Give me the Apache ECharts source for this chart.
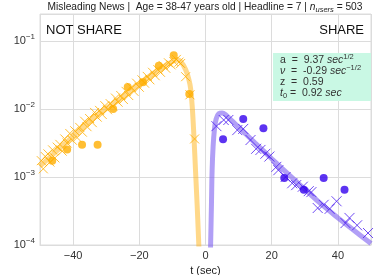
<!DOCTYPE html>
<html><head><meta charset="utf-8">
<script src="https://cdn.jsdelivr.net/npm/echarts@6/dist/echarts.min.js"></script>
<style>html,body{margin:0;padding:0;background:#fff}#c{width:374px;height:275px}</style>
</head><body><div id="c"></div>
<script>
// ---------- data ----------
const xTicks = [-40, -20, 0, 20, 40];
const yTicks = [1e-4, 1e-3, 1e-2, 1e-1];

// NOT SHARE (orange) fitted curve
const notShareLineT = [-50, -45, -40, -35, -30, -25, -20, -15, -12, -10, -8.5, -7.5, -6, -5, -4.5, -4, -3.5, -3, -2.5, -2];
const notShareLineP = [1.45e-3, 2.40e-3, 3.98e-3, 6.76e-3, 1.02e-2, 1.51e-2, 2.34e-2, 3.55e-2, 4.37e-2, 5.01e-2, 5.25e-2, 5.01e-2, 3.80e-2, 2.69e-2, 2.0e-2, 1.07e-2, 3.98e-3, 1.20e-3, 3.63e-4, 9.5e-5];
// NOT SHARE crosses
const notShareXT = [-49.6, -49.0, -48.4, -47.6, -47.0, -46.2, -45.5, -44.8, -44.0, -43.3, -42.5, -41.8, -41.0, -40.2, -39.5, -38.8, -38.0, -37.2, -36.5, -35.8, -35.0, -34.2, -33.5, -32.7, -32.0, -31.2, -30.4, -29.6, -28.8, -28.0, -27.2, -26.4, -25.6, -24.8, -24.0, -23.2, -22.4, -21.6, -20.8, -20.0, -19.2, -18.4, -17.6, -16.8, -16.0, -15.2, -14.4, -13.6, -12.8, -12.0, -11.2, -10.4, -9.6, -8.8, -8.0, -7.5, -6.0, -4.7, -3.3];
const notShareXP = [1.74e-3, 1.32e-3, 2.00e-3, 2.19e-3, 1.66e-3, 2.51e-3, 1.91e-3, 2.75e-3, 3.02e-3, 2.40e-3, 3.63e-3, 3.16e-3, 4.37e-3, 3.47e-3, 4.79e-3, 3.80e-3, 5.37e-3, 4.57e-3, 6.61e-3, 5.50e-3, 7.24e-3, 6.31e-3, 8.91e-3, 7.59e-3, 9.55e-3, 8.32e-3, 1.12e-2, 9.77e-3, 1.20e-2, 1.10e-2, 1.45e-2, 1.26e-2, 1.58e-2, 1.38e-2, 1.82e-2, 1.58e-2, 2.09e-2, 1.82e-2, 2.40e-2, 2.09e-2, 2.69e-2, 2.40e-2, 3.02e-2, 2.69e-2, 3.47e-2, 3.09e-2, 3.80e-2, 3.47e-2, 4.37e-2, 3.98e-2, 4.79e-2, 4.47e-2, 5.01e-2, 5.37e-2, 4.90e-2, 4.68e-2, 2.99e-2, 1.62e-2, 3.63e-3];
// NOT SHARE circles
const notShareOT = [-46.3, -41.8, -37.3, -32.6, -27.9, -23.5, -18.9, -14.1, -9.6, -4.9];
const notShareOP = [1.74e-3, 2.55e-3, 2.98e-3, 2.98e-3, 1.0e-2, 2.11e-2, 2.47e-2, 4.34e-2, 6.2e-2, 1.66e-2];

// SHARE (purple) fitted curve
const shareLineT = [1.5, 1.8, 2.0, 2.3, 2.7, 3.2, 4.0, 5.0, 6.0, 7.5, 9, 12, 15, 20, 25, 30, 35, 40, 45, 50];
const shareLineP = [8e-5, 3.98e-4, 1.26e-3, 2.82e-3, 5.01e-3, 7.08e-3, 8.51e-3, 8.71e-3, 8.32e-3, 7.08e-3, 6.03e-3, 4.37e-3, 3.16e-3, 1.86e-3, 1.10e-3, 6.61e-4, 3.98e-4, 2.51e-4, 1.62e-4, 1.05e-4];
// SHARE crosses
const shareXT = [3.3, 5.5, 6.9, 9.6, 11.4, 13.6, 15.3, 16.6, 18.1, 19.3, 21.4, 22.0, 24.2, 26.2, 27.4, 29.4, 31.2, 32.0, 33.9, 35.7, 37.5, 39.6, 42.3, 43.5, 45.8, 49.1];
const shareXP = [5.6e-3, 6.9e-3, 6.9e-3, 4.9e-3, 5.1e-3, 3.5e-3, 2.6e-3, 2.5e-3, 2.2e-3, 2.0e-3, 1.41e-3, 1.26e-3, 1.0e-3, 8.1e-4, 7.6e-4, 7.2e-4, 6.2e-4, 6.0e-4, 3.5e-4, 3.9e-4, 3.4e-4, 4.4e-4, 2.1e-4, 2.5e-4, 1.95e-4, 1.5e-4];
// SHARE circles
const shareOT = [5.3, 11.4, 17.5, 23.8, 29.7, 35.7, 42.0];
const shareOP = [3.58e-3, 7.13e-3, 5.2e-3, 9.7e-4, 6.5e-4, 9.7e-4, 6.5e-4];

// ---------- chart ----------
const FONT = '"Liberation Sans", Arial, sans-serif';
const zip = (a, b) => a.map((v, i) => [v, b[i]]);
const ORANGE = '#ffae00';
const PURPLE = '#3300ee';
const XSYM = 'path://M0,0L10,10M10,0L0,10';

const chart = echarts.init(document.getElementById('c'), null, { renderer: 'canvas' });
chart.setOption({
  animation: false,
  textStyle: { fontFamily: FONT },
  grid: { left: 40, right: 3, top: 14, bottom: 30, outerBoundsMode: 'none', containLabel: false,
          show: true, borderColor: '#dcdcdc', borderWidth: 1, backgroundColor: '#fff' },
  xAxis: {
    type: 'value', min: -50, max: 50, splitNumber: 5,
    name: 't (sec)', nameLocation: 'middle', nameGap: 18,
    nameTextStyle: { fontSize: 11, color: '#222', fontFamily: FONT },
    axisLine: { show: true, lineStyle: { color: '#dcdcdc' } },
    axisTick: { show: false },
    axisLabel: {
      fontSize: 11, color: '#333', margin: 5, fontFamily: FONT,
      formatter: v => xTicks.includes(v) ? String(v).replace('-', '\u2212') : ''
    },
    splitLine: { show: true, lineStyle: { color: '#dcdcdc', width: 1 } }
  },
  yAxis: {
    type: 'log', logBase: 10, min: 1e-4, max: 0.25,
    name: 'PDF', nameLocation: 'middle', nameGap: 28, nameRotate: 90,
    nameTextStyle: { fontSize: 11, color: '#222', fontFamily: FONT },
    axisLine: { show: true, lineStyle: { color: '#dcdcdc' } },
    axisTick: { show: false },
    axisLabel: {
      color: '#333', margin: 5, fontFamily: FONT,
      formatter: v => {
        const l = Math.log10(v), e = Math.round(l);
        if (Math.abs(l - e) > 0.01 || !yTicks.some(t => Math.abs(Math.log10(t) - e) < 0.01)) return '';
        return '{b|10}{s|\u2212' + (-e) + '}';
      },
      rich: {
        b: { fontSize: 11, color: '#333', fontFamily: FONT },
        s: { fontSize: 8, color: '#333', fontFamily: FONT, padding: [0, 0, 8, 0] }
      }
    },
    splitLine: { show: true, lineStyle: { color: '#dcdcdc', width: 1 } }
  },
  series: [
    { type: 'line', data: zip(notShareLineT, notShareLineP), showSymbol: false, smooth: 0.4, z: 1,
      lineStyle: { width: 5, color: 'rgba(255,178,20,0.5)' } },
    { type: 'scatter', data: zip(notShareXT, notShareXP), symbol: XSYM, symbolSize: 9, z: 3,
      itemStyle: { color: 'rgba(0,0,0,0)', borderColor: ORANGE, borderWidth: 1 } },
    { type: 'scatter', data: zip(notShareOT, notShareOP), symbol: 'circle', symbolSize: 8, z: 4,
      itemStyle: { color: ORANGE } },
    { type: 'line', data: zip(shareLineT, shareLineP), showSymbol: false, smooth: 0.4, z: 1,
      lineStyle: { width: 5, color: 'rgba(125,95,240,0.6)' } },
    { type: 'scatter', data: zip(shareXT, shareXP), symbol: XSYM, symbolSize: 10, z: 3,
      itemStyle: { color: 'rgba(0,0,0,0)', borderColor: '#4a1cf0', borderWidth: 1 } },
    { type: 'scatter', data: zip(shareOT, shareOP), symbol: 'circle', symbolSize: 8, z: 4,
      itemStyle: { color: PURPLE } }
  ],
  graphic: [
    { type: 'text', x: 205, y: 7, z: 10, style: {
        text: 'Misleading News |  Age = 38-47 years old | Headline = 7 | {i|n}{sub|users} = 503',
        align: 'center', verticalAlign: 'middle', fontSize: 10.2, fill: '#222', fontFamily: FONT,
        rich: {
          i: { fontSize: 10.2, fontStyle: 'italic', fill: '#222', fontFamily: FONT },
          sub: { fontSize: 7.5, fontStyle: 'italic', fill: '#222', fontFamily: FONT, padding: [5, 0, 0, 0] }
        } } },
    { type: 'text', x: 46, y: 30, z: 10, style: { text: 'NOT SHARE', fontSize: 13, fill: '#111', fontFamily: FONT, verticalAlign: 'middle' } },
    { type: 'text', x: 364, y: 30, z: 10, style: { text: 'SHARE', fontSize: 13, fill: '#111', fontFamily: FONT, align: 'right', verticalAlign: 'middle' } },
    { type: 'rect', z: 9, shape: { x: 273, y: 53, width: 98, height: 48 }, style: { fill: '#c9f8e4' } },
    { type: 'text', x: 280, y: 60, z: 10, style: { text: 'a  =  9.37 {i|sec}{sup|1/2}', fontSize: 10.5, fill: '#333', fontFamily: FONT, verticalAlign: 'middle',
        rich: { i: { fontStyle: 'italic', fontSize: 10.5, fill: '#333' }, sup: { fontSize: 7.5, fill: '#333', padding: [0, 0, 6, 0] } } } },
    { type: 'text', x: 280, y: 71, z: 10, style: { text: '{i|\u03bd}  =  -0.29 {i|sec}{sup|\u22121/2}', fontSize: 10.5, fill: '#333', fontFamily: FONT, verticalAlign: 'middle',
        rich: { i: { fontStyle: 'italic', fontSize: 10.5, fill: '#333' }, sup: { fontSize: 7.5, fill: '#333', padding: [0, 0, 6, 0] } } } },
    { type: 'text', x: 280, y: 82, z: 10, style: { text: 'z  =  0.59', fontSize: 10.5, fill: '#333', fontFamily: FONT, verticalAlign: 'middle' } },
    { type: 'text', x: 280, y: 93, z: 10, style: { text: '{i|t}{sub|0} =  0.92 {i|sec}', fontSize: 10.5, fill: '#333', fontFamily: FONT, verticalAlign: 'middle',
        rich: { i: { fontStyle: 'italic', fontSize: 10.5, fill: '#333' }, sub: { fontSize: 7.5, fill: '#333', padding: [5, 0, 0, 0] } } } }
  ]
});
</script>
</body></html>
